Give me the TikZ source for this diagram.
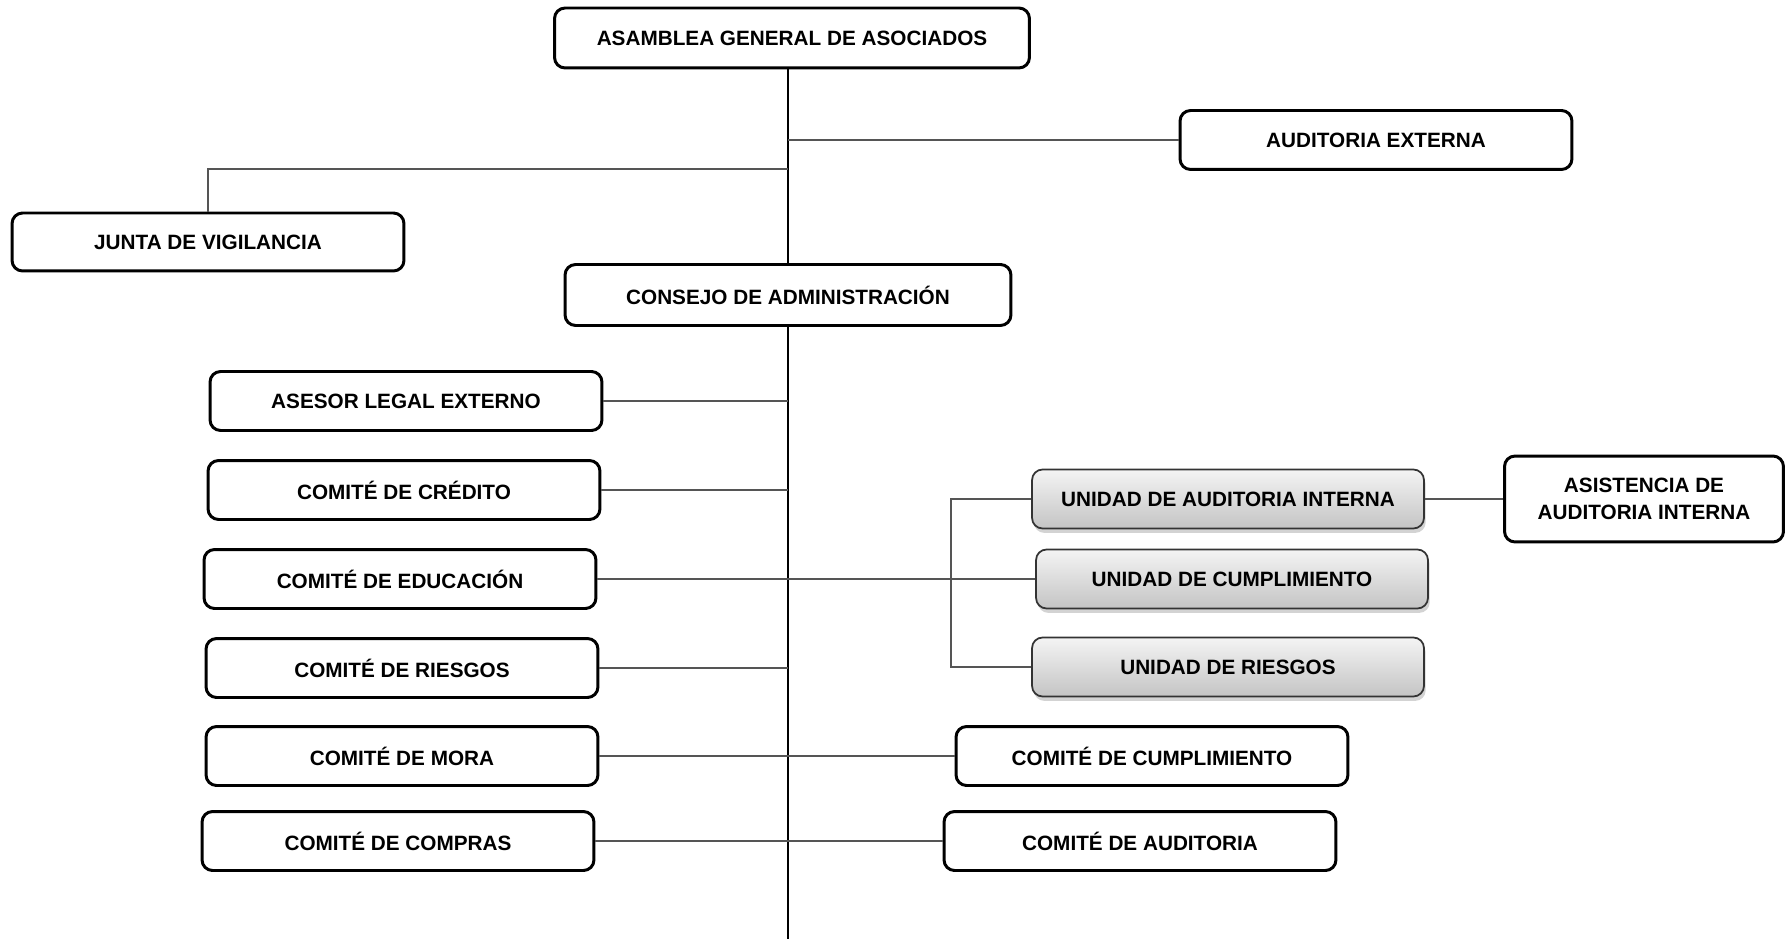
\documentclass[tikz,border=0pt]{standalone}
\usepackage{fontspec}
\setmainfont{Liberation Sans}
\usetikzlibrary{shadows}

\definecolor{linea}{RGB}{85,85,85}
\definecolor{grisclaro}{RGB}{244,244,244}
\definecolor{grisoscuro}{RGB}{196,196,196}

\begin{document}
\begin{tikzpicture}[
                x=0.02cm, y=-0.02cm,
                font=\fontsize{11.8}{15.4}\selectfont\bfseries,
                % Caja normal del organigrama
                caja/.style={
                    draw,
                    line width=1.7pt,
                    rounded corners=6pt,
                    fill=white,
                    minimum width=7.84cm,
                    minimum height=1.18cm,
                    align=center,
                    inner sep=0pt
                },
                % Caja gris de las unidades
                unidad/.style={
                    caja,
                    draw=black!80,
                    line width=1pt,
                    top color=grisclaro,
                    bottom color=grisoscuro,
                    drop shadow={shadow xshift=1pt, shadow yshift=-2.5pt, opacity=0.35}
                },
                enlace/.style={linea, line width=1pt},
                eje/.style={black, line width=1.4pt}
            ]

                \useasboundingbox (0,0) rectangle (1786,939);

                % --- Nivel superior ---
                \node[caja, minimum width=9.5cm, minimum height=1.2cm] (asamblea) at (792,38) {ASAMBLEA GENERAL DE ASOCIADOS};
                \node[caja] (audext) at (1376,140) {AUDITORIA EXTERNA};
                \node[caja, minimum height=1.16cm] (junta) at (208,242) {JUNTA DE VIGILANCIA};
                \node[caja, minimum width=8.92cm, minimum height=1.22cm] (consejo) at (788,295) {CONSEJO DE ADMINISTRACIÓN};

                % --- Comites a la izquierda ---
                \node[caja] (asesor) at (406,401) {ASESOR LEGAL EXTERNO};
                \node[caja] (credito) at (404,490) {COMITÉ DE CRÉDITO};
                \node[caja] (educacion) at (400,579) {COMITÉ DE EDUCACIÓN};
                \node[caja] (riesgos) at (402,668) {COMITÉ DE RIESGOS};
                \node[caja] (mora) at (402,756) {COMITÉ DE MORA};
                \node[caja] (compras) at (398,841) {COMITÉ DE COMPRAS};

                % --- Unidades y comites a la derecha ---
                \node[unidad] (uai) at (1228,499) {UNIDAD DE AUDITORIA INTERNA};
                \node[unidad] (ucump) at (1232,579) {UNIDAD DE CUMPLIMIENTO};
                \node[unidad] (uries) at (1228,667) {UNIDAD DE RIESGOS};
                \node[caja, minimum width=5.58cm, minimum height=1.72cm] (asist) at (1644,499) {ASISTENCIA DE\\AUDITORIA INTERNA};
                \node[caja] (ccump) at (1152,756) {COMITÉ DE CUMPLIMIENTO};
                \node[caja] (caud) at (1140,841) {COMITÉ DE AUDITORIA};

                % --- Lineas principales ---
                \coordinate (jv) at (788,169);
                \coordinate (fin) at (788,939);
                \coordinate (br) at (951,499);
                \draw[eje] (consejo.north |- asamblea.south) -- (consejo.north);
                \draw[eje] (consejo.south) -- (fin);

                % --- Ramas superiores ---
                \draw[enlace] (audext.west) -- (audext.west -| consejo.north);
                \draw[enlace] (junta.north) |- (jv);

                % --- Ramas de los comites ---
                \draw[enlace] (asesor.east) -- (asesor.east -| fin);
                \draw[enlace] (credito.east) -- (credito.east -| fin);
                \draw[enlace] (educacion.east) -- (ucump.west);
                \draw[enlace] (riesgos.east) -- (riesgos.east -| fin);
                \draw[enlace] (mora.east) -- (ccump.west);
                \draw[enlace] (compras.east) -- (caud.west);

                % --- Unidades ---
                \draw[enlace] (uai.west) -- (br) |- (uries.west);
                \draw[enlace] (uai.east) -- (asist.west);

            \end{tikzpicture}
\end{document}
